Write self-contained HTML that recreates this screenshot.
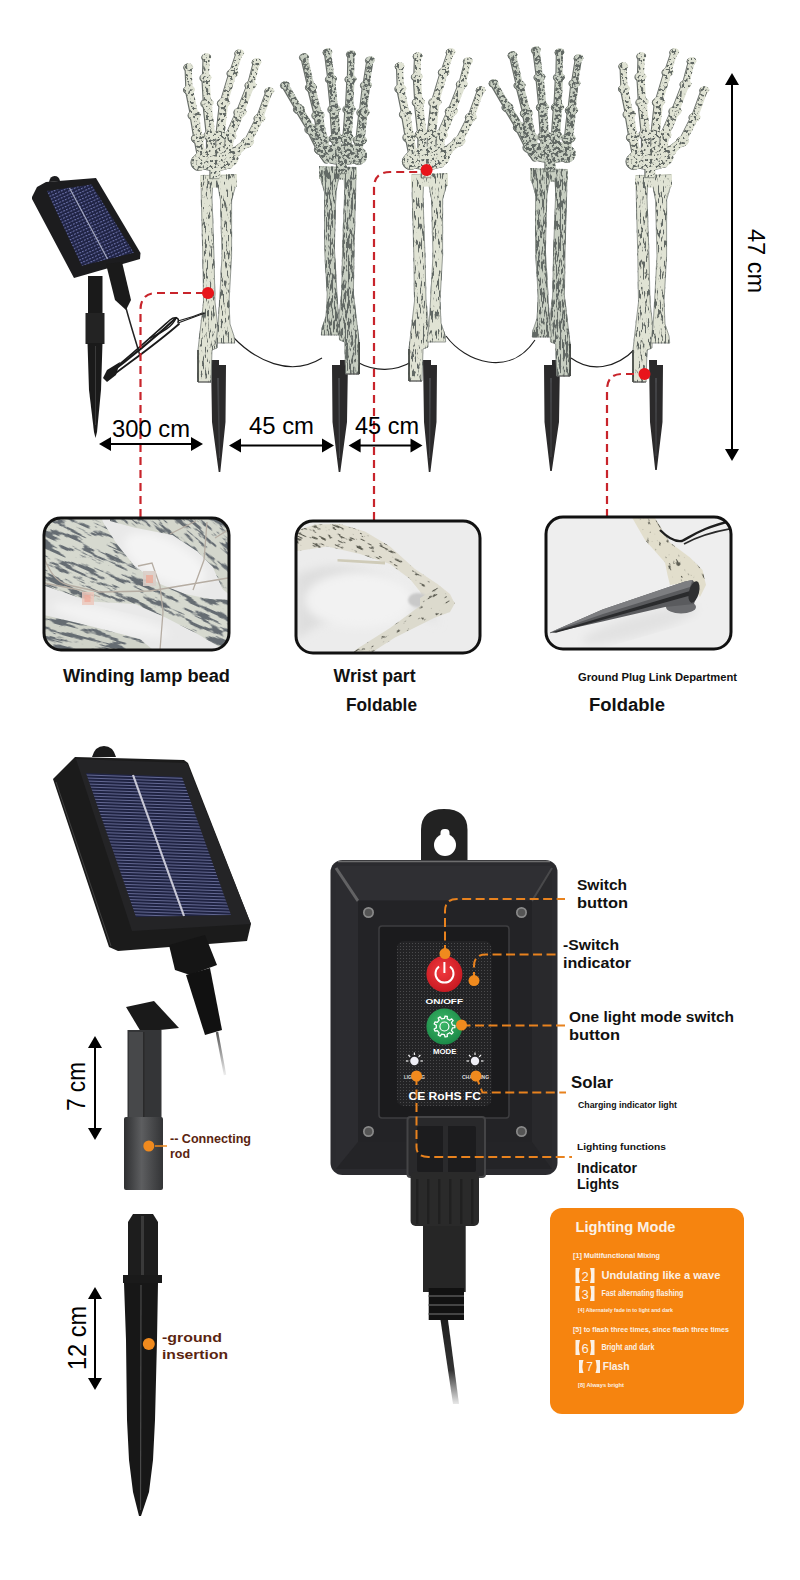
<!DOCTYPE html>
<html><head><meta charset="utf-8"><style>
html,body{margin:0;padding:0;background:#fff;}
body{width:800px;height:1580px;position:relative;overflow:hidden;font-family:"Liberation Sans",sans-serif;}
svg{position:absolute;left:0;top:0;}
</style></head><body>
<svg width="800" height="1580" viewBox="0 0 800 1580">
<defs>
<filter id="mottleA" x="-20%" y="-20%" width="140%" height="140%">
 <feTurbulence type="fractalNoise" baseFrequency="0.34" numOctaves="2" seed="4" result="n"/>
 <feColorMatrix in="n" type="matrix" values="0 0 0 0 0.12  0 0 0 0 0.14  0 0 0 0 0.13  11 0 0 0 -5.830" result="sp"/>
 <feComposite in="sp" in2="SourceGraphic" operator="in" result="s2"/>
 <feMerge><feMergeNode in="SourceGraphic"/><feMergeNode in="s2"/></feMerge>
</filter>
<filter id="mottleB" x="-20%" y="-20%" width="140%" height="140%">
 <feTurbulence type="fractalNoise" baseFrequency="0.34" numOctaves="2" seed="9" result="n"/>
 <feColorMatrix in="n" type="matrix" values="0 0 0 0 0.12  0 0 0 0 0.14  0 0 0 0 0.13  10 0 0 0 -4.600" result="sp"/>
 <feComposite in="sp" in2="SourceGraphic" operator="in" result="s2"/>
 <feMerge><feMergeNode in="SourceGraphic"/><feMergeNode in="s2"/></feMerge>
</filter>
<filter id="armA" x="-20%" y="-20%" width="140%" height="140%">
 <feTurbulence type="fractalNoise" baseFrequency="0.6 0.1" numOctaves="3" seed="5" result="n"/>
 <feColorMatrix in="n" type="matrix" values="0 0 0 0 0.12  0 0 0 0 0.14  0 0 0 0 0.13  10 0 0 0 -5.500" result="sp"/>
 <feComposite in="sp" in2="SourceGraphic" operator="in" result="s2"/>
 <feMerge><feMergeNode in="SourceGraphic"/><feMergeNode in="s2"/></feMerge>
</filter>
<filter id="armB" x="-20%" y="-20%" width="140%" height="140%">
 <feTurbulence type="fractalNoise" baseFrequency="0.6 0.1" numOctaves="3" seed="11" result="n"/>
 <feColorMatrix in="n" type="matrix" values="0 0 0 0 0.12  0 0 0 0 0.14  0 0 0 0 0.13  9 0 0 0 -4.140" result="sp"/>
 <feComposite in="sp" in2="SourceGraphic" operator="in" result="s2"/>
 <feMerge><feMergeNode in="SourceGraphic"/><feMergeNode in="s2"/></feMerge>
</filter>
<filter id="tex1" x="0" y="0" width="100%" height="100%">
 <feTurbulence type="fractalNoise" baseFrequency="0.04 0.22" numOctaves="4" seed="21" result="n"/>
 <feColorMatrix in="n" type="matrix" values="0 0 0 0 0.13  0 0 0 0 0.15  0 0 0 0 0.17  12 0 0 0 -6.240" result="sp"/>
 <feComposite in="sp" in2="SourceGraphic" operator="in"/>
</filter>
<filter id="tex2" x="0" y="0" width="100%" height="100%">
 <feTurbulence type="fractalNoise" baseFrequency="0.1 0.4" numOctaves="3" seed="23" result="n"/>
 <feColorMatrix in="n" type="matrix" values="0 0 0 0 0.1  0 0 0 0 0.1  0 0 0 0 0.08  14 0 0 0 -8.820" result="sp"/>
 <feComposite in="sp" in2="SourceGraphic" operator="in"/>
</filter>
<filter id="tex3" x="0" y="0" width="100%" height="100%">
 <feTurbulence type="fractalNoise" baseFrequency="0.12 0.3" numOctaves="3" seed="29" result="n"/>
 <feColorMatrix in="n" type="matrix" values="0 0 0 0 0.1  0 0 0 0 0.1  0 0 0 0 0.08  14 0 0 0 -9.380" result="sp"/>
 <feComposite in="sp" in2="SourceGraphic" operator="in"/>
</filter>
<filter id="streak" x="-20%" y="-20%" width="140%" height="140%">
 <feTurbulence type="fractalNoise" baseFrequency="0.04 0.16" numOctaves="3" seed="2" result="n"/>
 <feColorMatrix in="n" type="matrix" values="0 0 0 0 0.16  0 0 0 0 0.18  0 0 0 0 0.2  6 0 0 0 -3.000" result="sp"/>
 <feComposite in="sp" in2="SourceGraphic" operator="in" result="s2"/>
 <feMerge><feMergeNode in="SourceGraphic"/><feMergeNode in="s2"/></feMerge>
</filter>
<filter id="speck" x="-20%" y="-20%" width="140%" height="140%">
 <feTurbulence type="fractalNoise" baseFrequency="0.55" numOctaves="2" seed="7" result="n"/>
 <feColorMatrix in="n" type="matrix" values="0 0 0 0 0.15  0 0 0 0 0.15  0 0 0 0 0.13  14 0 0 0 -8.680" result="sp"/>
 <feComposite in="sp" in2="SourceGraphic" operator="in" result="s2"/>
 <feMerge><feMergeNode in="SourceGraphic"/><feMergeNode in="s2"/></feMerge>
</filter>
<filter id="blur1"><feGaussianBlur stdDeviation="1.2"/></filter>
<filter id="blur3"><feGaussianBlur stdDeviation="4"/></filter>
<pattern id="cells" width="3" height="3" patternUnits="userSpaceOnUse" patternTransform="rotate(2)"><rect width="3" height="3" fill="#1f2342"/><rect y="0" width="3" height="1" fill="#636892"/></pattern>
<pattern id="cells2" width="3.2" height="3.2" patternUnits="userSpaceOnUse" patternTransform="rotate(-25)"><rect width="3.2" height="3.2" fill="#1f2344"/><rect width="2" height="1.1" fill="#6a70a8"/></pattern>
<pattern id="panelTex" width="3" height="3" patternUnits="userSpaceOnUse"><rect width="3" height="3" fill="#232325"/><rect x="1" y="1" width="1" height="1" fill="#4a4a4c"/></pattern>
<linearGradient id="metal" x1="0" y1="0" x2="1" y2="0"><stop offset="0" stop-color="#2e2f31"/><stop offset="0.45" stop-color="#5d5e60"/><stop offset="1" stop-color="#333436"/></linearGradient>
<linearGradient id="wireFade" x1="0" y1="0" x2="0" y2="1"><stop offset="0" stop-color="#1e1e1e"/><stop offset="0.6" stop-color="#333"/><stop offset="1" stop-color="#e8e8e8"/></linearGradient>
<linearGradient id="wireFade2" x1="0" y1="0" x2="0" y2="1"><stop offset="0" stop-color="#555"/><stop offset="1" stop-color="#eee"/></linearGradient>
<radialGradient id="redBtn" cx="0.45" cy="0.4" r="0.6"><stop offset="0" stop-color="#f23a3f"/><stop offset="1" stop-color="#c81a22"/></radialGradient>
<radialGradient id="grnBtn" cx="0.45" cy="0.4" r="0.6"><stop offset="0" stop-color="#3cb868"/><stop offset="1" stop-color="#1c8a48"/></radialGradient>
<radialGradient id="ledGlow" cx="0.5" cy="0.5" r="0.5"><stop offset="0" stop-color="#fff"/><stop offset="0.6" stop-color="#e8e8f4"/><stop offset="1" stop-color="#777" stop-opacity="0"/></radialGradient>
<clipPath id="c1"><rect x="44" y="518" width="185" height="132" rx="17"/></clipPath>
<clipPath id="c2"><rect x="296" y="521" width="184" height="132" rx="17"/></clipPath>
<clipPath id="c3"><rect x="546" y="517" width="185" height="132" rx="17"/></clipPath>
</defs>

<g fill="none" stroke="#1e1e1e" stroke-width="1.1">
<path d="M178,321 C190,318 198,315 205,312"/>
<path d="M233,337 C255,360 290,378 322,358"/>
<path d="M357,362 C375,372 395,372 413,361"/>
<path d="M446,336 C465,362 510,378 535,340"/>
<path d="M571,358 C590,372 615,370 636,348"/>
</g>
<polygon points="211.0,360.0 219.0,360.0 219.0,365.0 226.0,365.0 225.5,422.0 220.3,472.0 218.7,472.0 212.0,422.0" fill="#2b2a2b"/><polygon points="217.0,378.0 219.0,378.0 220.0,458.0 219.0,458.0" fill="#444548"/>
<g filter="url(#armA)" fill="#e0e3d4"><path d="M200.0,175.0 L237.0,174.0 L237.0,186.0 L200.0,187.0 Z"/><path d="M201.0,176.0 L213.0,176.0 L212.0,198.0 L214.0,256.0 L215.0,302.0 L217.5,324.0 L217.0,348.0 L212.0,350.0 L211.0,382.0 L198.0,382.0 L198.0,350.0 L200.0,332.0 L203.5,302.0 L202.8,256.0 L201.3,198.0 Z" stroke="#7d847d" stroke-width="0.8"/><path d="M216.0,176.0 L236.0,175.0 L235.0,188.0 L231.6,200.0 L231.6,256.0 L229.0,302.0 L230.0,324.0 L234.0,336.0 L234.7,343.0 L216.0,343.0 L218.0,326.0 L219.5,302.0 L222.0,256.0 L220.5,200.0 Z" stroke="#7d847d" stroke-width="0.8"/><path d="M200.0,175.0 L237.0,174.0 L237.0,186.0 L200.0,187.0 Z" transform="translate(0,1)"/></g><line x1="198.0" y1="350" x2="198.0" y2="382" stroke="#3a3f3a" stroke-width="1.6"/><line x1="198.0" y1="382" x2="211.0" y2="382" stroke="#555" stroke-width="1"/>
<g transform="translate(213.9,172.6)" opacity="0.85"><g><g stroke="#4d544e" fill="#4d544e" stroke-linecap="round"><line x1="-13" y1="-16" x2="-16.5" y2="-34" stroke-width="8"/><line x1="-4" y1="-18" x2="-4" y2="-37" stroke-width="8"/><line x1="5" y1="-18" x2="5.5" y2="-37" stroke-width="8"/><line x1="13" y1="-16" x2="15" y2="-36" stroke-width="8"/><line x1="15" y1="-8" x2="20" y2="-20" stroke-width="8"/><line x1="-16.5" y1="-34" x2="-20.3" y2="-57" stroke-width="8.2"/><line x1="-20.3" y1="-57" x2="-25.5" y2="-82.5" stroke-width="7.2"/><line x1="-25.5" y1="-82.5" x2="-26.3" y2="-105" stroke-width="6.2"/><ellipse cx="-16.5" cy="-34" rx="6.0" ry="5.10"/><ellipse cx="-20.3" cy="-57" rx="5.6" ry="4.76"/><ellipse cx="-25.5" cy="-82.5" rx="5.0" ry="4.25"/><ellipse cx="-26.3" cy="-105" rx="4.0" ry="3.40"/><line x1="-4" y1="-37" x2="-7.5" y2="-69" stroke-width="8.2"/><line x1="-7.5" y1="-69" x2="-9" y2="-94.5" stroke-width="7.2"/><line x1="-9" y1="-94.5" x2="-8.3" y2="-115" stroke-width="6.2"/><ellipse cx="-4" cy="-37" rx="6.0" ry="5.10"/><ellipse cx="-7.5" cy="-69" rx="5.6" ry="4.76"/><ellipse cx="-9" cy="-94.5" rx="5.0" ry="4.25"/><ellipse cx="-8.3" cy="-115" rx="4.0" ry="3.40"/><line x1="5.5" y1="-37" x2="9" y2="-69" stroke-width="8.2"/><line x1="9" y1="-69" x2="18" y2="-99" stroke-width="7.2"/><line x1="18" y1="-99" x2="24.7" y2="-119" stroke-width="6.2"/><ellipse cx="5.5" cy="-37" rx="6.0" ry="5.10"/><ellipse cx="9" cy="-69" rx="5.6" ry="4.76"/><ellipse cx="18" cy="-99" rx="5.0" ry="4.25"/><ellipse cx="24.7" cy="-119" rx="4.0" ry="3.40"/><line x1="15" y1="-36" x2="25.5" y2="-60" stroke-width="8.2"/><line x1="25.5" y1="-60" x2="36" y2="-87" stroke-width="7.2"/><line x1="36" y1="-87" x2="42" y2="-110" stroke-width="6.2"/><ellipse cx="15" cy="-36" rx="6.0" ry="5.10"/><ellipse cx="25.5" cy="-60" rx="5.6" ry="4.76"/><ellipse cx="36" cy="-87" rx="5.0" ry="4.25"/><ellipse cx="42" cy="-110" rx="4.0" ry="3.40"/><line x1="20" y1="-20" x2="33" y2="-30" stroke-width="8.2"/><line x1="33" y1="-30" x2="45" y2="-54" stroke-width="7.2"/><line x1="45" y1="-54" x2="54.7" y2="-81" stroke-width="6.2"/><ellipse cx="20" cy="-20" rx="6.0" ry="5.10"/><ellipse cx="33" cy="-30" rx="5.6" ry="4.76"/><ellipse cx="45" cy="-54" rx="5.0" ry="4.25"/><ellipse cx="54.7" cy="-81" rx="4.0" ry="3.40"/><ellipse cx="1" cy="-13" rx="22" ry="11"/><ellipse cx="-15" cy="-10" rx="8" ry="8"/><rect x="-4" y="-6" width="9" height="12"/></g></g></g><g transform="translate(215,172)" filter="url(#mottleA)"><g stroke="#e0e3d4" fill="#e0e3d4" stroke-linecap="round"><line x1="-13" y1="-16" x2="-16.5" y2="-34" stroke-width="8"/><line x1="-4" y1="-18" x2="-4" y2="-37" stroke-width="8"/><line x1="5" y1="-18" x2="5.5" y2="-37" stroke-width="8"/><line x1="13" y1="-16" x2="15" y2="-36" stroke-width="8"/><line x1="15" y1="-8" x2="20" y2="-20" stroke-width="8"/><line x1="-16.5" y1="-34" x2="-20.3" y2="-57" stroke-width="8.2"/><line x1="-20.3" y1="-57" x2="-25.5" y2="-82.5" stroke-width="7.2"/><line x1="-25.5" y1="-82.5" x2="-26.3" y2="-105" stroke-width="6.2"/><ellipse cx="-16.5" cy="-34" rx="6.0" ry="5.10"/><ellipse cx="-20.3" cy="-57" rx="5.6" ry="4.76"/><ellipse cx="-25.5" cy="-82.5" rx="5.0" ry="4.25"/><ellipse cx="-26.3" cy="-105" rx="4.0" ry="3.40"/><line x1="-4" y1="-37" x2="-7.5" y2="-69" stroke-width="8.2"/><line x1="-7.5" y1="-69" x2="-9" y2="-94.5" stroke-width="7.2"/><line x1="-9" y1="-94.5" x2="-8.3" y2="-115" stroke-width="6.2"/><ellipse cx="-4" cy="-37" rx="6.0" ry="5.10"/><ellipse cx="-7.5" cy="-69" rx="5.6" ry="4.76"/><ellipse cx="-9" cy="-94.5" rx="5.0" ry="4.25"/><ellipse cx="-8.3" cy="-115" rx="4.0" ry="3.40"/><line x1="5.5" y1="-37" x2="9" y2="-69" stroke-width="8.2"/><line x1="9" y1="-69" x2="18" y2="-99" stroke-width="7.2"/><line x1="18" y1="-99" x2="24.7" y2="-119" stroke-width="6.2"/><ellipse cx="5.5" cy="-37" rx="6.0" ry="5.10"/><ellipse cx="9" cy="-69" rx="5.6" ry="4.76"/><ellipse cx="18" cy="-99" rx="5.0" ry="4.25"/><ellipse cx="24.7" cy="-119" rx="4.0" ry="3.40"/><line x1="15" y1="-36" x2="25.5" y2="-60" stroke-width="8.2"/><line x1="25.5" y1="-60" x2="36" y2="-87" stroke-width="7.2"/><line x1="36" y1="-87" x2="42" y2="-110" stroke-width="6.2"/><ellipse cx="15" cy="-36" rx="6.0" ry="5.10"/><ellipse cx="25.5" cy="-60" rx="5.6" ry="4.76"/><ellipse cx="36" cy="-87" rx="5.0" ry="4.25"/><ellipse cx="42" cy="-110" rx="4.0" ry="3.40"/><line x1="20" y1="-20" x2="33" y2="-30" stroke-width="8.2"/><line x1="33" y1="-30" x2="45" y2="-54" stroke-width="7.2"/><line x1="45" y1="-54" x2="54.7" y2="-81" stroke-width="6.2"/><ellipse cx="20" cy="-20" rx="6.0" ry="5.10"/><ellipse cx="33" cy="-30" rx="5.6" ry="4.76"/><ellipse cx="45" cy="-54" rx="5.0" ry="4.25"/><ellipse cx="54.7" cy="-81" rx="4.0" ry="3.40"/><ellipse cx="1" cy="-13" rx="22" ry="11"/><ellipse cx="-15" cy="-10" rx="8" ry="8"/><rect x="-4" y="-6" width="9" height="12"/></g></g>
<polygon points="332.0,365.0 340.0,365.0 340.0,360.0 348.0,360.0 347.0,422.0 340.3,472.0 338.7,472.0 332.5,422.0" fill="#2b2a2b"/><polygon points="338.0,378.0 340.0,378.0 340.0,458.0 339.0,458.0" fill="#444548"/>
<g filter="url(#armB)" fill="#c8cfc2"><path d="M357.0,167.0 L319.0,166.0 L319.0,178.0 L357.0,179.0 Z"/><path d="M356.0,168.0 L343.7,168.0 L344.7,190.0 L342.6,248.0 L341.6,294.0 L339.0,316.0 L339.5,340.0 L344.7,342.0 L345.7,374.0 L359.1,374.0 L359.1,342.0 L357.0,324.0 L353.4,294.0 L354.1,248.0 L355.7,190.0 Z" stroke="#7d847d" stroke-width="0.8"/><path d="M340.6,168.0 L320.0,167.0 L321.0,180.0 L324.5,192.0 L324.5,248.0 L327.2,294.0 L326.2,316.0 L322.1,328.0 L321.3,335.0 L340.6,335.0 L338.5,318.0 L337.0,294.0 L334.4,248.0 L335.9,192.0 Z" stroke="#7d847d" stroke-width="0.8"/><path d="M357.0,167.0 L319.0,166.0 L319.0,178.0 L357.0,179.0 Z" transform="translate(0,1)"/></g><line x1="359.0857142857143" y1="342" x2="359.0857142857143" y2="374" stroke="#3a3f3a" stroke-width="1.6"/><line x1="359.0857142857143" y1="374" x2="345.7142857142857" y2="374" stroke="#555" stroke-width="1"/>
<g transform="translate(340.4,167.6)" opacity="0.85"><g><g stroke="#4d544e" fill="#4d544e" stroke-linecap="round"><line x1="-14" y1="-8" x2="-20" y2="-18" stroke-width="8"/><line x1="-14" y1="-14" x2="-18" y2="-27" stroke-width="8"/><line x1="-4" y1="-16" x2="-5" y2="-29" stroke-width="8"/><line x1="6" y1="-16" x2="6" y2="-29" stroke-width="8"/><line x1="16" y1="-14" x2="19" y2="-27" stroke-width="8"/><line x1="-20" y1="-18" x2="-30" y2="-38" stroke-width="8.2"/><line x1="-30" y1="-38" x2="-42" y2="-58" stroke-width="7.2"/><line x1="-42" y1="-58" x2="-56" y2="-82" stroke-width="6.2"/><ellipse cx="-20" cy="-18" rx="6.0" ry="5.10"/><ellipse cx="-30" cy="-38" rx="5.6" ry="4.76"/><ellipse cx="-42" cy="-58" rx="5.0" ry="4.25"/><ellipse cx="-56" cy="-82" rx="4.0" ry="3.40"/><line x1="-18" y1="-27" x2="-23" y2="-52" stroke-width="8.2"/><line x1="-23" y1="-52" x2="-30" y2="-80" stroke-width="7.2"/><line x1="-30" y1="-80" x2="-37" y2="-110" stroke-width="6.2"/><ellipse cx="-18" cy="-27" rx="6.0" ry="5.10"/><ellipse cx="-23" cy="-52" rx="5.6" ry="4.76"/><ellipse cx="-30" cy="-80" rx="5.0" ry="4.25"/><ellipse cx="-37" cy="-110" rx="4.0" ry="3.40"/><line x1="-5" y1="-29" x2="-7" y2="-58" stroke-width="8.2"/><line x1="-7" y1="-58" x2="-10" y2="-88" stroke-width="7.2"/><line x1="-10" y1="-88" x2="-13.5" y2="-115" stroke-width="6.2"/><ellipse cx="-5" cy="-29" rx="6.0" ry="5.10"/><ellipse cx="-7" cy="-58" rx="5.6" ry="4.76"/><ellipse cx="-10" cy="-88" rx="5.0" ry="4.25"/><ellipse cx="-13.5" cy="-115" rx="4.0" ry="3.40"/><line x1="6" y1="-29" x2="8" y2="-58" stroke-width="8.2"/><line x1="8" y1="-58" x2="9.5" y2="-88" stroke-width="7.2"/><line x1="9.5" y1="-88" x2="10" y2="-113" stroke-width="6.2"/><ellipse cx="6" cy="-29" rx="6.0" ry="5.10"/><ellipse cx="8" cy="-58" rx="5.6" ry="4.76"/><ellipse cx="9.5" cy="-88" rx="5.0" ry="4.25"/><ellipse cx="10" cy="-113" rx="4.0" ry="3.40"/><line x1="19" y1="-27" x2="22" y2="-55" stroke-width="8.2"/><line x1="22" y1="-55" x2="25" y2="-82" stroke-width="7.2"/><line x1="25" y1="-82" x2="29" y2="-107" stroke-width="6.2"/><ellipse cx="19" cy="-27" rx="6.0" ry="5.10"/><ellipse cx="22" cy="-55" rx="5.6" ry="4.76"/><ellipse cx="25" cy="-82" rx="5.0" ry="4.25"/><ellipse cx="29" cy="-107" rx="4.0" ry="3.40"/><ellipse cx="2" cy="-13" rx="23" ry="10"/><ellipse cx="18" cy="-10" rx="7" ry="7"/><rect x="-4" y="-6" width="9" height="12"/></g></g></g><g transform="translate(341.5,167)" filter="url(#mottleB)"><g stroke="#c8cfc2" fill="#c8cfc2" stroke-linecap="round"><line x1="-14" y1="-8" x2="-20" y2="-18" stroke-width="8"/><line x1="-14" y1="-14" x2="-18" y2="-27" stroke-width="8"/><line x1="-4" y1="-16" x2="-5" y2="-29" stroke-width="8"/><line x1="6" y1="-16" x2="6" y2="-29" stroke-width="8"/><line x1="16" y1="-14" x2="19" y2="-27" stroke-width="8"/><line x1="-20" y1="-18" x2="-30" y2="-38" stroke-width="8.2"/><line x1="-30" y1="-38" x2="-42" y2="-58" stroke-width="7.2"/><line x1="-42" y1="-58" x2="-56" y2="-82" stroke-width="6.2"/><ellipse cx="-20" cy="-18" rx="6.0" ry="5.10"/><ellipse cx="-30" cy="-38" rx="5.6" ry="4.76"/><ellipse cx="-42" cy="-58" rx="5.0" ry="4.25"/><ellipse cx="-56" cy="-82" rx="4.0" ry="3.40"/><line x1="-18" y1="-27" x2="-23" y2="-52" stroke-width="8.2"/><line x1="-23" y1="-52" x2="-30" y2="-80" stroke-width="7.2"/><line x1="-30" y1="-80" x2="-37" y2="-110" stroke-width="6.2"/><ellipse cx="-18" cy="-27" rx="6.0" ry="5.10"/><ellipse cx="-23" cy="-52" rx="5.6" ry="4.76"/><ellipse cx="-30" cy="-80" rx="5.0" ry="4.25"/><ellipse cx="-37" cy="-110" rx="4.0" ry="3.40"/><line x1="-5" y1="-29" x2="-7" y2="-58" stroke-width="8.2"/><line x1="-7" y1="-58" x2="-10" y2="-88" stroke-width="7.2"/><line x1="-10" y1="-88" x2="-13.5" y2="-115" stroke-width="6.2"/><ellipse cx="-5" cy="-29" rx="6.0" ry="5.10"/><ellipse cx="-7" cy="-58" rx="5.6" ry="4.76"/><ellipse cx="-10" cy="-88" rx="5.0" ry="4.25"/><ellipse cx="-13.5" cy="-115" rx="4.0" ry="3.40"/><line x1="6" y1="-29" x2="8" y2="-58" stroke-width="8.2"/><line x1="8" y1="-58" x2="9.5" y2="-88" stroke-width="7.2"/><line x1="9.5" y1="-88" x2="10" y2="-113" stroke-width="6.2"/><ellipse cx="6" cy="-29" rx="6.0" ry="5.10"/><ellipse cx="8" cy="-58" rx="5.6" ry="4.76"/><ellipse cx="9.5" cy="-88" rx="5.0" ry="4.25"/><ellipse cx="10" cy="-113" rx="4.0" ry="3.40"/><line x1="19" y1="-27" x2="22" y2="-55" stroke-width="8.2"/><line x1="22" y1="-55" x2="25" y2="-82" stroke-width="7.2"/><line x1="25" y1="-82" x2="29" y2="-107" stroke-width="6.2"/><ellipse cx="19" cy="-27" rx="6.0" ry="5.10"/><ellipse cx="22" cy="-55" rx="5.6" ry="4.76"/><ellipse cx="25" cy="-82" rx="5.0" ry="4.25"/><ellipse cx="29" cy="-107" rx="4.0" ry="3.40"/><ellipse cx="2" cy="-13" rx="23" ry="10"/><ellipse cx="18" cy="-10" rx="7" ry="7"/><rect x="-4" y="-6" width="9" height="12"/></g></g>
<polygon points="423.0,360.0 431.0,360.0 431.0,365.0 437.0,365.0 436.5,422.0 430.4,472.0 428.8,472.0 424.0,422.0" fill="#2b2a2b"/><polygon points="429.0,378.0 431.0,378.0 430.1,458.0 429.1,458.0" fill="#444548"/>
<g filter="url(#armA)" fill="#e0e3d4"><path d="M411.0,174.0 L448.0,173.0 L448.0,185.0 L411.0,186.0 Z"/><path d="M412.0,175.0 L424.0,175.0 L423.0,197.0 L425.0,255.0 L426.0,301.0 L428.5,323.0 L428.0,347.0 L423.0,349.0 L422.0,381.0 L409.0,381.0 L409.0,349.0 L411.0,331.0 L414.5,301.0 L413.8,255.0 L412.3,197.0 Z" stroke="#7d847d" stroke-width="0.8"/><path d="M427.0,175.0 L447.0,174.0 L446.0,187.0 L442.6,199.0 L442.6,255.0 L440.0,301.0 L441.0,323.0 L445.0,335.0 L445.7,342.0 L427.0,342.0 L429.0,325.0 L430.5,301.0 L433.0,255.0 L431.5,199.0 Z" stroke="#7d847d" stroke-width="0.8"/><path d="M411.0,174.0 L448.0,173.0 L448.0,185.0 L411.0,186.0 Z" transform="translate(0,1)"/></g><line x1="409.0" y1="349" x2="409.0" y2="381" stroke="#3a3f3a" stroke-width="1.6"/><line x1="409.0" y1="381" x2="422.0" y2="381" stroke="#555" stroke-width="1"/>
<g transform="translate(425.29999999999995,171.6)" opacity="0.85"><g><g stroke="#4d544e" fill="#4d544e" stroke-linecap="round"><line x1="-13" y1="-16" x2="-16.5" y2="-34" stroke-width="8"/><line x1="-4" y1="-18" x2="-4" y2="-37" stroke-width="8"/><line x1="5" y1="-18" x2="5.5" y2="-37" stroke-width="8"/><line x1="13" y1="-16" x2="15" y2="-36" stroke-width="8"/><line x1="15" y1="-8" x2="20" y2="-20" stroke-width="8"/><line x1="-16.5" y1="-34" x2="-20.3" y2="-57" stroke-width="8.2"/><line x1="-20.3" y1="-57" x2="-25.5" y2="-82.5" stroke-width="7.2"/><line x1="-25.5" y1="-82.5" x2="-26.3" y2="-105" stroke-width="6.2"/><ellipse cx="-16.5" cy="-34" rx="6.0" ry="5.10"/><ellipse cx="-20.3" cy="-57" rx="5.6" ry="4.76"/><ellipse cx="-25.5" cy="-82.5" rx="5.0" ry="4.25"/><ellipse cx="-26.3" cy="-105" rx="4.0" ry="3.40"/><line x1="-4" y1="-37" x2="-7.5" y2="-69" stroke-width="8.2"/><line x1="-7.5" y1="-69" x2="-9" y2="-94.5" stroke-width="7.2"/><line x1="-9" y1="-94.5" x2="-8.3" y2="-115" stroke-width="6.2"/><ellipse cx="-4" cy="-37" rx="6.0" ry="5.10"/><ellipse cx="-7.5" cy="-69" rx="5.6" ry="4.76"/><ellipse cx="-9" cy="-94.5" rx="5.0" ry="4.25"/><ellipse cx="-8.3" cy="-115" rx="4.0" ry="3.40"/><line x1="5.5" y1="-37" x2="9" y2="-69" stroke-width="8.2"/><line x1="9" y1="-69" x2="18" y2="-99" stroke-width="7.2"/><line x1="18" y1="-99" x2="24.7" y2="-119" stroke-width="6.2"/><ellipse cx="5.5" cy="-37" rx="6.0" ry="5.10"/><ellipse cx="9" cy="-69" rx="5.6" ry="4.76"/><ellipse cx="18" cy="-99" rx="5.0" ry="4.25"/><ellipse cx="24.7" cy="-119" rx="4.0" ry="3.40"/><line x1="15" y1="-36" x2="25.5" y2="-60" stroke-width="8.2"/><line x1="25.5" y1="-60" x2="36" y2="-87" stroke-width="7.2"/><line x1="36" y1="-87" x2="42" y2="-110" stroke-width="6.2"/><ellipse cx="15" cy="-36" rx="6.0" ry="5.10"/><ellipse cx="25.5" cy="-60" rx="5.6" ry="4.76"/><ellipse cx="36" cy="-87" rx="5.0" ry="4.25"/><ellipse cx="42" cy="-110" rx="4.0" ry="3.40"/><line x1="20" y1="-20" x2="33" y2="-30" stroke-width="8.2"/><line x1="33" y1="-30" x2="45" y2="-54" stroke-width="7.2"/><line x1="45" y1="-54" x2="54.7" y2="-81" stroke-width="6.2"/><ellipse cx="20" cy="-20" rx="6.0" ry="5.10"/><ellipse cx="33" cy="-30" rx="5.6" ry="4.76"/><ellipse cx="45" cy="-54" rx="5.0" ry="4.25"/><ellipse cx="54.7" cy="-81" rx="4.0" ry="3.40"/><ellipse cx="1" cy="-13" rx="22" ry="11"/><ellipse cx="-15" cy="-10" rx="8" ry="8"/><rect x="-4" y="-6" width="9" height="12"/></g></g></g><g transform="translate(426.4,171)" filter="url(#mottleA)"><g stroke="#e0e3d4" fill="#e0e3d4" stroke-linecap="round"><line x1="-13" y1="-16" x2="-16.5" y2="-34" stroke-width="8"/><line x1="-4" y1="-18" x2="-4" y2="-37" stroke-width="8"/><line x1="5" y1="-18" x2="5.5" y2="-37" stroke-width="8"/><line x1="13" y1="-16" x2="15" y2="-36" stroke-width="8"/><line x1="15" y1="-8" x2="20" y2="-20" stroke-width="8"/><line x1="-16.5" y1="-34" x2="-20.3" y2="-57" stroke-width="8.2"/><line x1="-20.3" y1="-57" x2="-25.5" y2="-82.5" stroke-width="7.2"/><line x1="-25.5" y1="-82.5" x2="-26.3" y2="-105" stroke-width="6.2"/><ellipse cx="-16.5" cy="-34" rx="6.0" ry="5.10"/><ellipse cx="-20.3" cy="-57" rx="5.6" ry="4.76"/><ellipse cx="-25.5" cy="-82.5" rx="5.0" ry="4.25"/><ellipse cx="-26.3" cy="-105" rx="4.0" ry="3.40"/><line x1="-4" y1="-37" x2="-7.5" y2="-69" stroke-width="8.2"/><line x1="-7.5" y1="-69" x2="-9" y2="-94.5" stroke-width="7.2"/><line x1="-9" y1="-94.5" x2="-8.3" y2="-115" stroke-width="6.2"/><ellipse cx="-4" cy="-37" rx="6.0" ry="5.10"/><ellipse cx="-7.5" cy="-69" rx="5.6" ry="4.76"/><ellipse cx="-9" cy="-94.5" rx="5.0" ry="4.25"/><ellipse cx="-8.3" cy="-115" rx="4.0" ry="3.40"/><line x1="5.5" y1="-37" x2="9" y2="-69" stroke-width="8.2"/><line x1="9" y1="-69" x2="18" y2="-99" stroke-width="7.2"/><line x1="18" y1="-99" x2="24.7" y2="-119" stroke-width="6.2"/><ellipse cx="5.5" cy="-37" rx="6.0" ry="5.10"/><ellipse cx="9" cy="-69" rx="5.6" ry="4.76"/><ellipse cx="18" cy="-99" rx="5.0" ry="4.25"/><ellipse cx="24.7" cy="-119" rx="4.0" ry="3.40"/><line x1="15" y1="-36" x2="25.5" y2="-60" stroke-width="8.2"/><line x1="25.5" y1="-60" x2="36" y2="-87" stroke-width="7.2"/><line x1="36" y1="-87" x2="42" y2="-110" stroke-width="6.2"/><ellipse cx="15" cy="-36" rx="6.0" ry="5.10"/><ellipse cx="25.5" cy="-60" rx="5.6" ry="4.76"/><ellipse cx="36" cy="-87" rx="5.0" ry="4.25"/><ellipse cx="42" cy="-110" rx="4.0" ry="3.40"/><line x1="20" y1="-20" x2="33" y2="-30" stroke-width="8.2"/><line x1="33" y1="-30" x2="45" y2="-54" stroke-width="7.2"/><line x1="45" y1="-54" x2="54.7" y2="-81" stroke-width="6.2"/><ellipse cx="20" cy="-20" rx="6.0" ry="5.10"/><ellipse cx="33" cy="-30" rx="5.6" ry="4.76"/><ellipse cx="45" cy="-54" rx="5.0" ry="4.25"/><ellipse cx="54.7" cy="-81" rx="4.0" ry="3.40"/><ellipse cx="1" cy="-13" rx="22" ry="11"/><ellipse cx="-15" cy="-10" rx="8" ry="8"/><rect x="-4" y="-6" width="9" height="12"/></g></g>
<polygon points="544.0,365.0 552.0,365.0 552.0,360.0 560.0,360.0 559.0,422.0 551.8,471.0 550.2,471.0 544.5,422.0" fill="#2b2a2b"/><polygon points="550.0,378.0 552.0,378.0 551.5,457.0 550.5,457.0" fill="#444548"/>
<g filter="url(#armB)" fill="#c8cfc2"><path d="M568.0,169.0 L530.0,168.0 L530.0,180.0 L568.0,181.0 Z"/><path d="M567.0,170.0 L554.7,170.0 L555.7,192.0 L553.6,250.0 L552.6,296.0 L550.0,318.0 L550.5,342.0 L555.7,344.0 L556.7,376.0 L570.1,376.0 L570.1,344.0 L568.0,326.0 L564.4,296.0 L565.1,250.0 L566.7,192.0 Z" stroke="#7d847d" stroke-width="0.8"/><path d="M551.6,170.0 L531.0,169.0 L532.0,182.0 L535.5,194.0 L535.5,250.0 L538.2,296.0 L537.2,318.0 L533.1,330.0 L532.3,337.0 L551.6,337.0 L549.5,320.0 L548.0,296.0 L545.4,250.0 L546.9,194.0 Z" stroke="#7d847d" stroke-width="0.8"/><path d="M568.0,169.0 L530.0,168.0 L530.0,180.0 L568.0,181.0 Z" transform="translate(0,1)"/></g><line x1="570.0857142857143" y1="344" x2="570.0857142857143" y2="376" stroke="#3a3f3a" stroke-width="1.6"/><line x1="570.0857142857143" y1="376" x2="556.7142857142857" y2="376" stroke="#555" stroke-width="1"/>
<g transform="translate(548.9,165.6)" opacity="0.85"><g><g stroke="#4d544e" fill="#4d544e" stroke-linecap="round"><line x1="-14" y1="-8" x2="-20" y2="-18" stroke-width="8"/><line x1="-14" y1="-14" x2="-18" y2="-27" stroke-width="8"/><line x1="-4" y1="-16" x2="-5" y2="-29" stroke-width="8"/><line x1="6" y1="-16" x2="6" y2="-29" stroke-width="8"/><line x1="16" y1="-14" x2="19" y2="-27" stroke-width="8"/><line x1="-20" y1="-18" x2="-30" y2="-38" stroke-width="8.2"/><line x1="-30" y1="-38" x2="-42" y2="-58" stroke-width="7.2"/><line x1="-42" y1="-58" x2="-56" y2="-82" stroke-width="6.2"/><ellipse cx="-20" cy="-18" rx="6.0" ry="5.10"/><ellipse cx="-30" cy="-38" rx="5.6" ry="4.76"/><ellipse cx="-42" cy="-58" rx="5.0" ry="4.25"/><ellipse cx="-56" cy="-82" rx="4.0" ry="3.40"/><line x1="-18" y1="-27" x2="-23" y2="-52" stroke-width="8.2"/><line x1="-23" y1="-52" x2="-30" y2="-80" stroke-width="7.2"/><line x1="-30" y1="-80" x2="-37" y2="-110" stroke-width="6.2"/><ellipse cx="-18" cy="-27" rx="6.0" ry="5.10"/><ellipse cx="-23" cy="-52" rx="5.6" ry="4.76"/><ellipse cx="-30" cy="-80" rx="5.0" ry="4.25"/><ellipse cx="-37" cy="-110" rx="4.0" ry="3.40"/><line x1="-5" y1="-29" x2="-7" y2="-58" stroke-width="8.2"/><line x1="-7" y1="-58" x2="-10" y2="-88" stroke-width="7.2"/><line x1="-10" y1="-88" x2="-13.5" y2="-115" stroke-width="6.2"/><ellipse cx="-5" cy="-29" rx="6.0" ry="5.10"/><ellipse cx="-7" cy="-58" rx="5.6" ry="4.76"/><ellipse cx="-10" cy="-88" rx="5.0" ry="4.25"/><ellipse cx="-13.5" cy="-115" rx="4.0" ry="3.40"/><line x1="6" y1="-29" x2="8" y2="-58" stroke-width="8.2"/><line x1="8" y1="-58" x2="9.5" y2="-88" stroke-width="7.2"/><line x1="9.5" y1="-88" x2="10" y2="-113" stroke-width="6.2"/><ellipse cx="6" cy="-29" rx="6.0" ry="5.10"/><ellipse cx="8" cy="-58" rx="5.6" ry="4.76"/><ellipse cx="9.5" cy="-88" rx="5.0" ry="4.25"/><ellipse cx="10" cy="-113" rx="4.0" ry="3.40"/><line x1="19" y1="-27" x2="22" y2="-55" stroke-width="8.2"/><line x1="22" y1="-55" x2="25" y2="-82" stroke-width="7.2"/><line x1="25" y1="-82" x2="29" y2="-107" stroke-width="6.2"/><ellipse cx="19" cy="-27" rx="6.0" ry="5.10"/><ellipse cx="22" cy="-55" rx="5.6" ry="4.76"/><ellipse cx="25" cy="-82" rx="5.0" ry="4.25"/><ellipse cx="29" cy="-107" rx="4.0" ry="3.40"/><ellipse cx="2" cy="-13" rx="23" ry="10"/><ellipse cx="18" cy="-10" rx="7" ry="7"/><rect x="-4" y="-6" width="9" height="12"/></g></g></g><g transform="translate(550,165)" filter="url(#mottleB)"><g stroke="#c8cfc2" fill="#c8cfc2" stroke-linecap="round"><line x1="-14" y1="-8" x2="-20" y2="-18" stroke-width="8"/><line x1="-14" y1="-14" x2="-18" y2="-27" stroke-width="8"/><line x1="-4" y1="-16" x2="-5" y2="-29" stroke-width="8"/><line x1="6" y1="-16" x2="6" y2="-29" stroke-width="8"/><line x1="16" y1="-14" x2="19" y2="-27" stroke-width="8"/><line x1="-20" y1="-18" x2="-30" y2="-38" stroke-width="8.2"/><line x1="-30" y1="-38" x2="-42" y2="-58" stroke-width="7.2"/><line x1="-42" y1="-58" x2="-56" y2="-82" stroke-width="6.2"/><ellipse cx="-20" cy="-18" rx="6.0" ry="5.10"/><ellipse cx="-30" cy="-38" rx="5.6" ry="4.76"/><ellipse cx="-42" cy="-58" rx="5.0" ry="4.25"/><ellipse cx="-56" cy="-82" rx="4.0" ry="3.40"/><line x1="-18" y1="-27" x2="-23" y2="-52" stroke-width="8.2"/><line x1="-23" y1="-52" x2="-30" y2="-80" stroke-width="7.2"/><line x1="-30" y1="-80" x2="-37" y2="-110" stroke-width="6.2"/><ellipse cx="-18" cy="-27" rx="6.0" ry="5.10"/><ellipse cx="-23" cy="-52" rx="5.6" ry="4.76"/><ellipse cx="-30" cy="-80" rx="5.0" ry="4.25"/><ellipse cx="-37" cy="-110" rx="4.0" ry="3.40"/><line x1="-5" y1="-29" x2="-7" y2="-58" stroke-width="8.2"/><line x1="-7" y1="-58" x2="-10" y2="-88" stroke-width="7.2"/><line x1="-10" y1="-88" x2="-13.5" y2="-115" stroke-width="6.2"/><ellipse cx="-5" cy="-29" rx="6.0" ry="5.10"/><ellipse cx="-7" cy="-58" rx="5.6" ry="4.76"/><ellipse cx="-10" cy="-88" rx="5.0" ry="4.25"/><ellipse cx="-13.5" cy="-115" rx="4.0" ry="3.40"/><line x1="6" y1="-29" x2="8" y2="-58" stroke-width="8.2"/><line x1="8" y1="-58" x2="9.5" y2="-88" stroke-width="7.2"/><line x1="9.5" y1="-88" x2="10" y2="-113" stroke-width="6.2"/><ellipse cx="6" cy="-29" rx="6.0" ry="5.10"/><ellipse cx="8" cy="-58" rx="5.6" ry="4.76"/><ellipse cx="9.5" cy="-88" rx="5.0" ry="4.25"/><ellipse cx="10" cy="-113" rx="4.0" ry="3.40"/><line x1="19" y1="-27" x2="22" y2="-55" stroke-width="8.2"/><line x1="22" y1="-55" x2="25" y2="-82" stroke-width="7.2"/><line x1="25" y1="-82" x2="29" y2="-107" stroke-width="6.2"/><ellipse cx="19" cy="-27" rx="6.0" ry="5.10"/><ellipse cx="22" cy="-55" rx="5.6" ry="4.76"/><ellipse cx="25" cy="-82" rx="5.0" ry="4.25"/><ellipse cx="29" cy="-107" rx="4.0" ry="3.40"/><ellipse cx="2" cy="-13" rx="23" ry="10"/><ellipse cx="18" cy="-10" rx="7" ry="7"/><rect x="-4" y="-6" width="9" height="12"/></g></g>
<polygon points="649.0,360.0 657.0,360.0 657.0,365.0 663.0,365.0 662.5,422.0 656.8,470.0 655.2,470.0 650.0,422.0" fill="#2b2a2b"/><polygon points="655.0,378.0 657.0,378.0 656.5,456.0 655.5,456.0" fill="#444548"/>
<g filter="url(#armA)" fill="#e0e3d4"><path d="M635.0,175.0 L672.0,174.0 L672.0,186.0 L635.0,187.0 Z"/><path d="M636.0,176.0 L648.0,176.0 L647.0,198.0 L649.0,256.0 L650.0,302.0 L652.5,324.0 L652.0,348.0 L647.0,350.0 L646.0,382.0 L633.0,382.0 L633.0,350.0 L635.0,332.0 L638.5,302.0 L637.8,256.0 L636.3,198.0 Z" stroke="#7d847d" stroke-width="0.8"/><path d="M651.0,176.0 L671.0,175.0 L670.0,188.0 L666.6,200.0 L666.6,256.0 L664.0,302.0 L665.0,324.0 L669.0,336.0 L669.7,343.0 L651.0,343.0 L653.0,326.0 L654.5,302.0 L657.0,256.0 L655.5,200.0 Z" stroke="#7d847d" stroke-width="0.8"/><path d="M635.0,175.0 L672.0,174.0 L672.0,186.0 L635.0,187.0 Z" transform="translate(0,1)"/></g><line x1="633.0" y1="350" x2="633.0" y2="382" stroke="#3a3f3a" stroke-width="1.6"/><line x1="633.0" y1="382" x2="646.0" y2="382" stroke="#555" stroke-width="1"/>
<g transform="translate(648.9,171.6)" opacity="0.85"><g><g stroke="#4d544e" fill="#4d544e" stroke-linecap="round"><line x1="-13" y1="-16" x2="-16.5" y2="-34" stroke-width="8"/><line x1="-4" y1="-18" x2="-4" y2="-37" stroke-width="8"/><line x1="5" y1="-18" x2="5.5" y2="-37" stroke-width="8"/><line x1="13" y1="-16" x2="15" y2="-36" stroke-width="8"/><line x1="15" y1="-8" x2="20" y2="-20" stroke-width="8"/><line x1="-16.5" y1="-34" x2="-20.3" y2="-57" stroke-width="8.2"/><line x1="-20.3" y1="-57" x2="-25.5" y2="-82.5" stroke-width="7.2"/><line x1="-25.5" y1="-82.5" x2="-26.3" y2="-105" stroke-width="6.2"/><ellipse cx="-16.5" cy="-34" rx="6.0" ry="5.10"/><ellipse cx="-20.3" cy="-57" rx="5.6" ry="4.76"/><ellipse cx="-25.5" cy="-82.5" rx="5.0" ry="4.25"/><ellipse cx="-26.3" cy="-105" rx="4.0" ry="3.40"/><line x1="-4" y1="-37" x2="-7.5" y2="-69" stroke-width="8.2"/><line x1="-7.5" y1="-69" x2="-9" y2="-94.5" stroke-width="7.2"/><line x1="-9" y1="-94.5" x2="-8.3" y2="-115" stroke-width="6.2"/><ellipse cx="-4" cy="-37" rx="6.0" ry="5.10"/><ellipse cx="-7.5" cy="-69" rx="5.6" ry="4.76"/><ellipse cx="-9" cy="-94.5" rx="5.0" ry="4.25"/><ellipse cx="-8.3" cy="-115" rx="4.0" ry="3.40"/><line x1="5.5" y1="-37" x2="9" y2="-69" stroke-width="8.2"/><line x1="9" y1="-69" x2="18" y2="-99" stroke-width="7.2"/><line x1="18" y1="-99" x2="24.7" y2="-119" stroke-width="6.2"/><ellipse cx="5.5" cy="-37" rx="6.0" ry="5.10"/><ellipse cx="9" cy="-69" rx="5.6" ry="4.76"/><ellipse cx="18" cy="-99" rx="5.0" ry="4.25"/><ellipse cx="24.7" cy="-119" rx="4.0" ry="3.40"/><line x1="15" y1="-36" x2="25.5" y2="-60" stroke-width="8.2"/><line x1="25.5" y1="-60" x2="36" y2="-87" stroke-width="7.2"/><line x1="36" y1="-87" x2="42" y2="-110" stroke-width="6.2"/><ellipse cx="15" cy="-36" rx="6.0" ry="5.10"/><ellipse cx="25.5" cy="-60" rx="5.6" ry="4.76"/><ellipse cx="36" cy="-87" rx="5.0" ry="4.25"/><ellipse cx="42" cy="-110" rx="4.0" ry="3.40"/><line x1="20" y1="-20" x2="33" y2="-30" stroke-width="8.2"/><line x1="33" y1="-30" x2="45" y2="-54" stroke-width="7.2"/><line x1="45" y1="-54" x2="54.7" y2="-81" stroke-width="6.2"/><ellipse cx="20" cy="-20" rx="6.0" ry="5.10"/><ellipse cx="33" cy="-30" rx="5.6" ry="4.76"/><ellipse cx="45" cy="-54" rx="5.0" ry="4.25"/><ellipse cx="54.7" cy="-81" rx="4.0" ry="3.40"/><ellipse cx="1" cy="-13" rx="22" ry="11"/><ellipse cx="-15" cy="-10" rx="8" ry="8"/><rect x="-4" y="-6" width="9" height="12"/></g></g></g><g transform="translate(650,171)" filter="url(#mottleA)"><g stroke="#e0e3d4" fill="#e0e3d4" stroke-linecap="round"><line x1="-13" y1="-16" x2="-16.5" y2="-34" stroke-width="8"/><line x1="-4" y1="-18" x2="-4" y2="-37" stroke-width="8"/><line x1="5" y1="-18" x2="5.5" y2="-37" stroke-width="8"/><line x1="13" y1="-16" x2="15" y2="-36" stroke-width="8"/><line x1="15" y1="-8" x2="20" y2="-20" stroke-width="8"/><line x1="-16.5" y1="-34" x2="-20.3" y2="-57" stroke-width="8.2"/><line x1="-20.3" y1="-57" x2="-25.5" y2="-82.5" stroke-width="7.2"/><line x1="-25.5" y1="-82.5" x2="-26.3" y2="-105" stroke-width="6.2"/><ellipse cx="-16.5" cy="-34" rx="6.0" ry="5.10"/><ellipse cx="-20.3" cy="-57" rx="5.6" ry="4.76"/><ellipse cx="-25.5" cy="-82.5" rx="5.0" ry="4.25"/><ellipse cx="-26.3" cy="-105" rx="4.0" ry="3.40"/><line x1="-4" y1="-37" x2="-7.5" y2="-69" stroke-width="8.2"/><line x1="-7.5" y1="-69" x2="-9" y2="-94.5" stroke-width="7.2"/><line x1="-9" y1="-94.5" x2="-8.3" y2="-115" stroke-width="6.2"/><ellipse cx="-4" cy="-37" rx="6.0" ry="5.10"/><ellipse cx="-7.5" cy="-69" rx="5.6" ry="4.76"/><ellipse cx="-9" cy="-94.5" rx="5.0" ry="4.25"/><ellipse cx="-8.3" cy="-115" rx="4.0" ry="3.40"/><line x1="5.5" y1="-37" x2="9" y2="-69" stroke-width="8.2"/><line x1="9" y1="-69" x2="18" y2="-99" stroke-width="7.2"/><line x1="18" y1="-99" x2="24.7" y2="-119" stroke-width="6.2"/><ellipse cx="5.5" cy="-37" rx="6.0" ry="5.10"/><ellipse cx="9" cy="-69" rx="5.6" ry="4.76"/><ellipse cx="18" cy="-99" rx="5.0" ry="4.25"/><ellipse cx="24.7" cy="-119" rx="4.0" ry="3.40"/><line x1="15" y1="-36" x2="25.5" y2="-60" stroke-width="8.2"/><line x1="25.5" y1="-60" x2="36" y2="-87" stroke-width="7.2"/><line x1="36" y1="-87" x2="42" y2="-110" stroke-width="6.2"/><ellipse cx="15" cy="-36" rx="6.0" ry="5.10"/><ellipse cx="25.5" cy="-60" rx="5.6" ry="4.76"/><ellipse cx="36" cy="-87" rx="5.0" ry="4.25"/><ellipse cx="42" cy="-110" rx="4.0" ry="3.40"/><line x1="20" y1="-20" x2="33" y2="-30" stroke-width="8.2"/><line x1="33" y1="-30" x2="45" y2="-54" stroke-width="7.2"/><line x1="45" y1="-54" x2="54.7" y2="-81" stroke-width="6.2"/><ellipse cx="20" cy="-20" rx="6.0" ry="5.10"/><ellipse cx="33" cy="-30" rx="5.6" ry="4.76"/><ellipse cx="45" cy="-54" rx="5.0" ry="4.25"/><ellipse cx="54.7" cy="-81" rx="4.0" ry="3.40"/><ellipse cx="1" cy="-13" rx="22" ry="11"/><ellipse cx="-15" cy="-10" rx="8" ry="8"/><rect x="-4" y="-6" width="9" height="12"/></g></g>
<g>
<polygon points="32.0,197.0 37.0,187.0 46.0,182.0 96.0,178.0 140.5,253.0 140.0,259.0 74.0,278.0 32.0,199.0" fill="#1c1c1e"/>
<path d="M49,182 Q50,176 54.5,176 Q59,176 60,181 Z" fill="#1c1c1e"/>
<polygon points="46.8,191.0 91.5,184.5 133.8,252.8 81.8,265.8" fill="url(#cells2)"/>
<line x1="69.5" y1="188" x2="107.5" y2="259" stroke="#a4a8c0" stroke-width="1.2"/>
<rect x="88" y="276" width="14.5" height="40" fill="#1a1a1a"/>
<rect x="85.5" y="313" width="19" height="31" fill="#232323"/>
<polygon points="87.5,343.0 102.5,343.0 101.0,390.0 97.0,432.0 95.5,438.0 94.0,432.0 89.0,390.0" fill="#1a1a1a"/>
<path d="M95.5,346 L95.5,425" stroke="#3a3a3a" stroke-width="1"/>
<polygon points="106.0,264.0 122.0,262.0 131.0,300.0 126.0,310.0 115.0,300.0" fill="#1a1a1a"/>
<path d="M126,308 C132,330 137,345 140,356" stroke="#222" stroke-width="1.5" fill="none"/>
<g fill="none" stroke="#1a1a1a" stroke-linecap="round">
<path d="M106,376 C125,362 150,342 176,318" stroke-width="2.2"/>
<path d="M108,379 C130,362 155,345 179,324" stroke-width="1.8"/>
<path d="M110,372 C128,358 150,338 170,320 C175,316 180,318 178,322" stroke-width="1.6"/>
<path d="M176,318 C172,328 160,333 150,338" stroke-width="1.4"/>
<path d="M178,323 L205,313" stroke-width="1.1"/>
</g>
<polygon points="103.0,378.0 107.0,370.0 120.0,362.0 116.0,375.0 107.0,382.0" fill="#1a1a1a"/>
</g>
<g fill="none" stroke="#c8242b" stroke-width="2.2" stroke-dasharray="8,5">
<path d="M140.5,517 L140.5,310 Q140.5,293 157,293 L205,293"/>
<path d="M374,520 L374,188 Q374,172 390,172 L424,172"/>
<path d="M607,517 L607,390 Q607,374 622,374 L642,374"/>
</g>
<g fill="#e8151b"><circle cx="208" cy="293" r="6"/><circle cx="426.6" cy="170" r="6"/><circle cx="644.5" cy="374" r="6"/></g>
<g fill="#000">
<line x1="109" y1="444" x2="193" y2="444" stroke="#000" stroke-width="2"/><polygon points="99.0,444.0 111.0,437.0 111.0,451.0"/><polygon points="203.0,444.0 191.0,437.0 191.0,451.0"/>
<line x1="239" y1="445.6" x2="324" y2="445.6" stroke="#000" stroke-width="2"/><polygon points="229.0,445.6 241.0,438.6 241.0,452.6"/><polygon points="334.0,445.6 322.0,438.6 322.0,452.6"/>
<line x1="358.6" y1="445.6" x2="412.5" y2="445.6" stroke="#000" stroke-width="2"/><polygon points="348.6,445.6 360.6,438.6 360.6,452.6"/><polygon points="422.5,445.6 410.5,438.6 410.5,452.6"/>
<line x1="732" y1="80" x2="732" y2="455" stroke="#000" stroke-width="2"/>
<polygon points="732.0,73.0 725.0,85.0 739.0,85.0"/>
<polygon points="732.0,461.0 725.0,449.0 739.0,449.0"/>
</g>
<g font-family="Liberation Sans, sans-serif" font-size="24" fill="#000">
<text x="112" y="436.5" textLength="78" lengthAdjust="spacingAndGlyphs">300 cm</text>
<text x="249" y="434" textLength="65" lengthAdjust="spacingAndGlyphs">45 cm</text>
<text x="355" y="434" textLength="64" lengthAdjust="spacingAndGlyphs">45 cm</text>
<text transform="translate(748,229) rotate(90)" textLength="64" lengthAdjust="spacingAndGlyphs">47 cm</text>
</g>
<g clip-path="url(#c1)">
<rect x="40" y="514" width="195" height="140" fill="#e9e9e9"/>
<ellipse cx="165" cy="560" rx="45" ry="20" fill="#f4f4f4" transform="rotate(28 165 560)" filter="url(#blur3)"/>
<ellipse cx="110" cy="620" rx="60" ry="9" fill="#f3f3f3" transform="rotate(14 110 620)" filter="url(#blur3)"/>
<clipPath id="b1c"><path d="M40.0,514.0 L102.0,514.0 L102.5,521.5 L117.5,545.0 L135.0,566.5 L160.0,584.0 L185.0,594.0 L210.0,599.0 L240.0,600.0 L240.0,660.0 L216.0,645.0 L197.5,634.0 L166.0,617.8 L135.0,604.0 L90.0,601.5 L40.0,584.0 Z"/></clipPath><path d="M40.0,514.0 L102.0,514.0 L102.5,521.5 L117.5,545.0 L135.0,566.5 L160.0,584.0 L185.0,594.0 L210.0,599.0 L240.0,600.0 L240.0,660.0 L216.0,645.0 L197.5,634.0 L166.0,617.8 L135.0,604.0 L90.0,601.5 L40.0,584.0 Z" fill="#d6d9cf"/><g clip-path="url(#b1c)"><g transform="rotate(24 140 580)"><rect x="-20.0" y="500.0" width="320" height="160" fill="#000" filter="url(#tex1)"/></g></g>
<clipPath id="b2c"><path d="M110.0,514.0 L240.0,514.0 L240.0,604.0 L222.5,589.0 L212.5,566.5 L197.5,551.5 L172.5,535.0 L135.0,527.8 L110.0,521.0 Z"/></clipPath><path d="M110.0,514.0 L240.0,514.0 L240.0,604.0 L222.5,589.0 L212.5,566.5 L197.5,551.5 L172.5,535.0 L135.0,527.8 L110.0,521.0 Z" fill="#d3d6cc"/><g clip-path="url(#b2c)"><g transform="rotate(40 180 550)"><rect x="50.0" y="470.0" width="260" height="160" fill="#000" filter="url(#tex1)"/></g></g>
<clipPath id="b3c"><path d="M40.0,614.0 L90.0,626.0 L140.0,639.0 L165.0,660.0 L40.0,660.0 Z"/></clipPath><path d="M40.0,614.0 L90.0,626.0 L140.0,639.0 L165.0,660.0 L40.0,660.0 Z" fill="#d0d3c9"/><g clip-path="url(#b3c)"><g transform="rotate(15 100 640)"><rect x="0.0" y="600.0" width="200" height="80" fill="#000" filter="url(#tex1)"/></g></g>
<g fill="none" stroke="#b5aca2" stroke-width="1.3">
<path d="M44,558 C50,572 56,582 68,585 L100,592 L150,591 L180,586 L228,578"/>
<path d="M44,583 L80,590 L100,597"/>
<path d="M138,566 L152,563 L160,586 L163,612 L160,650"/>
<path d="M170,534 L196,521 M207,522 L204,560 L193,590"/>
<path d="M215,538 L228,530"/>
</g>
<rect x="82" y="592" width="12" height="13" fill="#ecc8bc" opacity="0.85"/><rect x="84.5" y="595" width="6" height="7" fill="#f0a898" opacity="0.7"/><rect x="143" y="571" width="13" height="15" fill="#d9cdc6" opacity="0.9"/><rect x="146" y="575" width="7" height="8" fill="#eda896" opacity="0.75"/>
</g>
<rect x="44" y="518" width="185" height="132" rx="17" fill="none" stroke="#111" stroke-width="3"/>
<g clip-path="url(#c2)">
<rect x="290" y="515" width="195" height="145" fill="#ececec"/>
<path d="M296,575 C340,555 390,570 425,605 L440,625 C400,600 350,600 296,640 Z" fill="#dedede" filter="url(#blur3)"/>
<ellipse cx="360" cy="600" rx="55" ry="28" fill="#f2f2f2" filter="url(#blur3)"/>
<clipPath id="p2a"><path d="M294.0,531.5 L315.0,524.5 L340.0,524.0 L365.0,531.5 L390.0,546.5 L415.0,569.0 L437.5,584.0 L450.0,594.0 L455.0,604.0 L425.0,601.5 L420.0,591.5 L410.0,579.0 L390.0,564.0 L360.0,554.0 L327.5,546.5 L294.0,551.5 Z"/></clipPath><path d="M294.0,531.5 L315.0,524.5 L340.0,524.0 L365.0,531.5 L390.0,546.5 L415.0,569.0 L437.5,584.0 L450.0,594.0 L455.0,604.0 L425.0,601.5 L420.0,591.5 L410.0,579.0 L390.0,564.0 L360.0,554.0 L327.5,546.5 L294.0,551.5 Z" fill="#e0ddd0"/><g clip-path="url(#p2a)"><g transform="rotate(25 375 565)"><rect x="275.0" y="520.0" width="200" height="90" fill="#000" filter="url(#tex2)"/></g></g>
<path d="M337.5,559 L385,561.5 L385,564.5 L337.5,561.5 Z" fill="#cfcbb8"/>
<ellipse cx="418" cy="600" rx="10" ry="7" fill="#c9c9c9" filter="url(#blur1)"/>
<clipPath id="p2b"><path d="M420.0,598.0 L440.0,586.0 L455.0,603.0 L450.0,612.0 L434.0,618.0 L395.0,637.5 L372.5,652.0 L350.0,657.0 L356.0,649.5 L390.0,628.0 L420.0,606.0 Z"/></clipPath><path d="M420.0,598.0 L440.0,586.0 L455.0,603.0 L450.0,612.0 L434.0,618.0 L395.0,637.5 L372.5,652.0 L350.0,657.0 L356.0,649.5 L390.0,628.0 L420.0,606.0 Z" fill="#dcdacd"/><g clip-path="url(#p2b)"><g transform="rotate(-32 405 622)"><rect x="335.0" y="592.0" width="140" height="60" fill="#000" filter="url(#tex3)"/></g></g>
</g>
<rect x="296" y="521" width="184" height="132" rx="17" fill="none" stroke="#111" stroke-width="3"/>
<g clip-path="url(#c3)">
<rect x="540" y="512" width="195" height="145" fill="#eeeeee"/>
<ellipse cx="640" cy="625" rx="60" ry="10" fill="#e2e2e2" transform="rotate(-16 640 625)" filter="url(#blur3)"/>
<clipPath id="p3a"><path d="M630.0,514.0 L652.5,514.0 L670.0,542.5 L690.0,557.5 L702.5,570.0 L706.0,585.0 L700.0,597.0 L690.0,582.5 L670.0,585.0 L667.5,575.0 L665.0,562.5 L645.0,540.0 Z"/></clipPath><path d="M630.0,514.0 L652.5,514.0 L670.0,542.5 L690.0,557.5 L702.5,570.0 L706.0,585.0 L700.0,597.0 L690.0,582.5 L670.0,585.0 L667.5,575.0 L665.0,562.5 L645.0,540.0 Z" fill="#e2decc"/><g clip-path="url(#p3a)"><g transform="rotate(60 668 556)"><rect x="598.0" y="511.0" width="140" height="90" fill="#000" filter="url(#tex3)"/></g></g>
<path d="M660,530 C668,538 676,542 682,541 C692,536 703,527 735,520" stroke="#1e1e1e" stroke-width="2.4" fill="none"/>
<path d="M684,544 C695,538 710,532 735,528" stroke="#2a2a2a" stroke-width="1.8" fill="none"/>
<ellipse cx="681" cy="607" rx="15" ry="6.5" fill="#6a6b6e"/>
<polygon points="550.0,632.5 602.5,609.5 685.0,581.5 692.5,580.0 699.0,588.0 694.0,604.0 665.0,607.0 602.5,621.5 550.0,633.2" fill="#5a5b5e"/>
<polygon points="551.0,632.0 602.5,609.5 685.0,581.5 692.5,580.0 690.0,587.0 603.0,614.0" fill="#7d7e81"/>
<polygon points="552.0,632.3 690.0,591.0 692.0,595.0 556.0,632.8" fill="#2a2b2d"/>
<ellipse cx="694" cy="592" rx="5" ry="11" fill="#2e2f31" transform="rotate(15 694 592)"/>
</g>
<rect x="546" y="517" width="185" height="132" rx="17" fill="none" stroke="#111" stroke-width="3"/>
<g font-family="Liberation Sans, sans-serif" font-weight="bold" fill="#111">
<text x="63" y="681.5" font-size="18" textLength="167" lengthAdjust="spacingAndGlyphs">Winding lamp bead</text>
<text x="333.6" y="681.5" font-size="18" textLength="82" lengthAdjust="spacingAndGlyphs">Wrist part</text>
<text x="346" y="711" font-size="18" textLength="71" lengthAdjust="spacingAndGlyphs">Foldable</text>
<text x="578" y="680.6" font-size="10.8" textLength="159" lengthAdjust="spacingAndGlyphs">Ground Plug Link Department</text>
<text x="589" y="710.5" font-size="18" textLength="76" lengthAdjust="spacingAndGlyphs">Foldable</text>
</g>
<g>
<path d="M92,757 Q95,746 104,746 Q113,746 116,757 Z" fill="#1a1a1a"/>
<polygon points="53.0,779.0 75.0,757.0 184.0,760.0 188.0,763.0 251.0,924.0 247.0,941.0 118.0,951.0 109.0,947.0" fill="#1b1b1b"/>
<polygon points="76.0,759.0 187.0,763.0 251.0,924.0 132.0,931.0" fill="#242426"/>
<polygon points="86.0,773.0 182.0,777.0 231.0,915.0 136.0,917.0" fill="url(#cells)"/>
<line x1="133" y1="775" x2="184" y2="916" stroke="#c8c8d6" stroke-width="2.2"/>
<line x1="56" y1="782" x2="111" y2="946" stroke="#4a4a4a" stroke-width="0.8"/>
<polygon points="169.0,945.0 205.0,935.0 217.0,965.0 190.0,975.0 175.0,970.0" fill="#151515"/>
<polygon points="186.0,975.0 210.0,968.0 222.0,1030.0 205.0,1035.0" fill="#111"/>
<path d="M217,1032 L225,1075" stroke="url(#wireFade2)" stroke-width="2.5"/>
<polygon points="126.0,1007.0 154.0,1001.0 179.0,1028.0 141.0,1032.0" fill="#1a1a1a"/>
<rect x="127.5" y="1030" width="34" height="90" fill="#343537"/>
<rect x="129" y="1032" width="14" height="86" fill="#47484a"/>
<rect x="143" y="1032" width="1.5" height="86" fill="#2a2a2b"/>
<rect x="124" y="1117" width="39" height="73" rx="2" fill="url(#metal)"/>
<polygon points="133.0,1214.0 153.0,1214.0 158.0,1222.0 158.0,1278.0 128.0,1278.0 128.0,1222.0" fill="#1d1d1d"/>
<rect x="141" y="1216" width="3" height="60" fill="#3a3a3a"/>
<rect x="123" y="1275" width="39" height="8" fill="#1a1a1a"/>
<polygon points="124.0,1283.0 158.0,1283.0 157.0,1340.0 155.0,1420.0 153.0,1460.0 149.0,1492.0 141.0,1516.0 139.0,1516.0 133.0,1492.0 129.0,1460.0 127.0,1420.0 126.0,1340.0" fill="#171717"/>
<path d="M141,1285 L140.5,1510" stroke="#4a4a4a" stroke-width="1.2"/>
</g>
<g fill="#000">
<line x1="95" y1="1045" x2="95" y2="1131" stroke="#000" stroke-width="2"/>
<polygon points="95.0,1036.0 88.0,1048.0 102.0,1048.0"/>
<polygon points="95.0,1140.0 88.0,1128.0 102.0,1128.0"/>
<line x1="95" y1="1296" x2="95" y2="1381" stroke="#000" stroke-width="2"/>
<polygon points="95.0,1287.0 88.0,1299.0 102.0,1299.0"/>
<polygon points="95.0,1390.0 88.0,1378.0 102.0,1378.0"/>
</g>
<g font-family="Liberation Sans, sans-serif" font-size="25" fill="#000">
<text transform="translate(85,1111) rotate(-90)" textLength="49" lengthAdjust="spacingAndGlyphs">7 cm</text>
<text transform="translate(86,1370) rotate(-90)" textLength="64" lengthAdjust="spacingAndGlyphs">12 cm</text>
</g>
<g fill="#f08a1e"><circle cx="148.8" cy="1146" r="5.5"/><circle cx="148.8" cy="1344" r="6"/></g>
<line x1="155" y1="1146" x2="167" y2="1146" stroke="#f08a1e" stroke-width="1.5"/>
<g font-family="Liberation Sans, sans-serif" font-weight="bold" font-size="12" fill="#5a2410">
<text x="170" y="1143" textLength="81" lengthAdjust="spacingAndGlyphs">-- Connecting</text>
<text x="170" y="1157.5" textLength="20" lengthAdjust="spacingAndGlyphs">rod</text>
<text x="162" y="1342" font-size="13" textLength="60" lengthAdjust="spacingAndGlyphs">-ground</text>
<text x="162" y="1359" font-size="13" textLength="66" lengthAdjust="spacingAndGlyphs">insertion</text>
</g>
<g>
<path d="M421,866 L421,830 Q421,809 444,809 Q467.5,809 467.5,830 L467.5,866 Z" fill="#222"/>
<circle cx="445" cy="845" r="11" fill="#fff"/>
<rect x="440.5" y="829" width="9" height="10" rx="4" fill="#fff"/>
<rect x="330.5" y="860" width="227" height="315" rx="12" fill="#2b2b2f"/>
<path d="M338,861.5 L550,861.5" stroke="#8a8a8a" stroke-width="1.5" opacity="0.7"/>
<polygon points="336.0,866.0 552.0,866.0 532.0,900.5 358.0,900.5" fill="#2f2f33"/>
<polygon points="336.0,866.0 358.0,900.5 358.0,1142.0 336.0,1169.0" fill="#2c2c30"/>
<polygon points="552.0,866.0 532.0,900.5 532.0,1142.0 552.0,1169.0" fill="#29292c"/>
<polygon points="336.0,1169.0 358.0,1142.0 532.0,1142.0 552.0,1169.0" fill="#242427"/>
<path d="M336,868 L358,901" stroke="#8f8f8f" stroke-width="3" opacity="0.55"/>
<path d="M552,868 L532,901" stroke="#6a6a6a" stroke-width="2" opacity="0.5"/>
<rect x="358" y="900.5" width="174" height="241.5" fill="#232326"/>
<rect x="379" y="926" width="130" height="192" rx="3" fill="#1b1b1d" stroke="#3e3e40" stroke-width="1.5"/>
<rect x="397" y="941" width="94.5" height="165" rx="7" fill="url(#panelTex)"/>
<circle cx="368.5" cy="912.5" r="5.5" fill="#8a8a8a"/><circle cx="368.5" cy="912.5" r="3.8" fill="#555"/>
<circle cx="521.5" cy="912.5" r="5.5" fill="#8a8a8a"/><circle cx="521.5" cy="912.5" r="3.8" fill="#555"/>
<circle cx="368.5" cy="1131.5" r="5.5" fill="#8a8a8a"/><circle cx="368.5" cy="1131.5" r="3.8" fill="#555"/>
<circle cx="521.5" cy="1131.5" r="5.5" fill="#8a8a8a"/><circle cx="521.5" cy="1131.5" r="3.8" fill="#555"/>
<circle cx="444.4" cy="974" r="18" fill="url(#redBtn)"/>
<path d="M439,966.5 A9,9 0 1 0 450,966.5" fill="none" stroke="#fff" stroke-width="2"/><line x1="444.4" y1="962" x2="444.4" y2="973" stroke="#fff" stroke-width="2"/>
<circle cx="444.4" cy="1026.5" r="18" fill="url(#grnBtn)"/>
<path d="M452.48,1025.11 L454.84,1025.35 L454.84,1027.65 L452.48,1027.89 L451.48,1030.63 L453.14,1032.33 L451.65,1034.09 L449.70,1032.76 L447.17,1034.22 L447.35,1036.58 L445.08,1036.98 L444.44,1034.70 L441.56,1034.19 L440.18,1036.11 L438.18,1034.96 L439.16,1032.81 L437.28,1030.57 L434.99,1031.15 L434.20,1028.99 L436.33,1027.96 L436.33,1025.04 L434.20,1024.01 L434.99,1021.85 L437.28,1022.43 L439.16,1020.19 L438.18,1018.04 L440.18,1016.89 L441.56,1018.81 L444.44,1018.30 L445.08,1016.02 L447.35,1016.42 L447.17,1018.78 L449.70,1020.24 L451.65,1018.91 L453.14,1020.67 L451.48,1022.37 Z" fill="none" stroke="#fff" stroke-width="1.3" stroke-linejoin="round"/><circle cx="444.4" cy="1026.5" r="4.5" fill="none" stroke="#fff" stroke-width="1.2"/>
<circle cx="414.4" cy="1061" r="4.2" fill="#eeeef6"/><line x1="414.4" y1="1055.0" x2="414.4" y2="1052.5" stroke="#f0f0f0" stroke-width="1.2"/><line x1="418.6" y1="1056.8" x2="420.4" y2="1055.0" stroke="#f0f0f0" stroke-width="1.2"/><line x1="420.4" y1="1061.0" x2="422.9" y2="1061.0" stroke="#f0f0f0" stroke-width="1.2"/><line x1="408.4" y1="1061.0" x2="405.9" y2="1061.0" stroke="#f0f0f0" stroke-width="1.2"/><line x1="410.2" y1="1056.8" x2="408.4" y2="1055.0" stroke="#f0f0f0" stroke-width="1.2"/><circle cx="475" cy="1061" r="4.2" fill="#eeeef6"/><line x1="475.0" y1="1055.0" x2="475.0" y2="1052.5" stroke="#f0f0f0" stroke-width="1.2"/><line x1="479.2" y1="1056.8" x2="481.0" y2="1055.0" stroke="#f0f0f0" stroke-width="1.2"/><line x1="481.0" y1="1061.0" x2="483.5" y2="1061.0" stroke="#f0f0f0" stroke-width="1.2"/><line x1="469.0" y1="1061.0" x2="466.5" y2="1061.0" stroke="#f0f0f0" stroke-width="1.2"/><line x1="470.8" y1="1056.8" x2="469.0" y2="1055.0" stroke="#f0f0f0" stroke-width="1.2"/>
<text x="404" y="1078.5" font-family="Liberation Sans, sans-serif" font-weight="bold" font-size="4.5" fill="#ddd" textLength="21" lengthAdjust="spacingAndGlyphs">LIGHTING</text><text x="462" y="1078.5" font-family="Liberation Sans, sans-serif" font-weight="bold" font-size="4.5" fill="#ddd" textLength="27" lengthAdjust="spacingAndGlyphs">CHARGING</text>
<rect x="407.5" y="1117" width="77.5" height="60" rx="3" fill="#29292b" stroke="#444446" stroke-width="2"/>
<rect x="417" y="1126" width="59" height="46" rx="2" fill="#1c1c1e"/>
<rect x="443" y="1126" width="5" height="46" fill="#2a2a2c"/>
<rect x="410.6" y="1172" width="68.4" height="54" rx="5" fill="#2a2a2a"/>
<rect x="416" y="1179" width="2.5" height="45" fill="#202020"/>
<rect x="427" y="1179" width="2.5" height="45" fill="#202020"/>
<rect x="438" y="1179" width="2.5" height="45" fill="#202020"/>
<rect x="449" y="1179" width="2.5" height="45" fill="#202020"/>
<rect x="460" y="1179" width="2.5" height="45" fill="#202020"/>
<rect x="471" y="1179" width="2.5" height="45" fill="#202020"/>
<rect x="423" y="1226" width="42.7" height="66" fill="#262626"/>
<rect x="428.7" y="1288" width="35.3" height="32" fill="#111"/>
<rect x="428.7" y="1295" width="35.3" height="2" fill="#444"/>
<rect x="428.7" y="1304" width="35.3" height="2" fill="#444"/>
<rect x="428.7" y="1313" width="35.3" height="2" fill="#444"/>
<polygon points="440.5,1320.0 448.0,1320.0 459.0,1404.0 453.0,1404.0" fill="url(#wireFade)"/>
</g>
<g font-family="Liberation Sans, sans-serif" font-weight="bold" fill="#fff" font-size="8">
<text x="425.5" y="1004" textLength="37.5" lengthAdjust="spacingAndGlyphs">ON/OFF</text>
<text x="433" y="1054.4" textLength="23.4" lengthAdjust="spacingAndGlyphs">MODE</text>
<text x="408.4" y="1100" font-size="10.5" textLength="72.6" lengthAdjust="spacingAndGlyphs">CE RoHS FC</text>
</g>
<g fill="none" stroke="#e8821e" stroke-width="2" stroke-dasharray="9,4.5">
<path d="M445,954 L445,911 Q445,899 457,899 L565,899"/>
<path d="M474,981 L474,966 Q474,954.5 486,954.5 L560,954.5"/>
<path d="M461.5,1025.6 L566,1025.6"/>
<path d="M476,1076 L482.5,1092.5 L566,1092.5"/>
<path d="M416.5,1076 L416.5,1147 Q416.5,1157 428.5,1157 L572,1157"/>
</g>
<g fill="#f08a1e"><circle cx="445" cy="953.6" r="5.5"/><circle cx="474" cy="980.6" r="5.5"/><circle cx="461.5" cy="1025" r="5.5"/><circle cx="476" cy="1076" r="5.5"/><circle cx="416.5" cy="1076" r="5.5"/></g>
<g font-family="Liberation Sans, sans-serif" font-weight="bold" fill="#111">
<text x="577" y="890" font-size="14" textLength="50" lengthAdjust="spacingAndGlyphs">Switch</text>
<text x="577" y="908" font-size="14" textLength="51" lengthAdjust="spacingAndGlyphs">button</text>
<text x="563" y="950" font-size="14" textLength="56" lengthAdjust="spacingAndGlyphs">-Switch</text>
<text x="563" y="968" font-size="14" textLength="68" lengthAdjust="spacingAndGlyphs">indicator</text>
<text x="569" y="1022" font-size="14" textLength="165" lengthAdjust="spacingAndGlyphs">One light mode switch</text>
<text x="569" y="1040" font-size="14" textLength="51" lengthAdjust="spacingAndGlyphs">button</text>
<text x="571" y="1088" font-size="16" textLength="42" lengthAdjust="spacingAndGlyphs">Solar</text>
<text x="578" y="1108" font-size="8.5" textLength="99" lengthAdjust="spacingAndGlyphs">Charging indicator light</text>
<text x="577" y="1150" font-size="9.5" textLength="89" lengthAdjust="spacingAndGlyphs">Lighting functions</text>
<text x="577" y="1173" font-size="14" textLength="60" lengthAdjust="spacingAndGlyphs">Indicator</text>
<text x="577" y="1189" font-size="14" textLength="42" lengthAdjust="spacingAndGlyphs">Lights</text>
</g>
<rect x="550" y="1208" width="194" height="206" rx="12" fill="#f6840f"/>
<g font-family="Liberation Sans, sans-serif" font-weight="bold" fill="#fbf1e6">
<text x="575.5" y="1232" font-size="15" textLength="100" lengthAdjust="spacingAndGlyphs">Lighting Mode</text>
<text x="573" y="1258" font-size="7" textLength="87" lengthAdjust="spacingAndGlyphs">[1] Multifunctional Mixing</text>
<path d="M575.5,1268 h4.5 q-2.2,7.5 0,15 h-4.5 z M594.5,1268 h-4.5 q2.2,7.5 0,15 h4.5 z" fill="#fbf1e6"/>
<text x="585.0" y="1281" font-size="13" font-weight="normal" text-anchor="middle">2</text>
<text x="601.4" y="1279" font-size="11.5" textLength="119" lengthAdjust="spacingAndGlyphs">Undulating like a wave</text>
<path d="M575.5,1286 h4.5 q-2.2,7.5 0,15 h-4.5 z M594.5,1286 h-4.5 q2.2,7.5 0,15 h4.5 z" fill="#fbf1e6"/>
<text x="585.0" y="1299" font-size="13" font-weight="normal" text-anchor="middle">3</text>
<text x="601.4" y="1296" font-size="8.5" textLength="82" lengthAdjust="spacingAndGlyphs">Fast alternating flashing</text>
<text x="578" y="1312" font-size="5.5" textLength="95" lengthAdjust="spacingAndGlyphs">[4] Alternately fade in to light and dark</text>
<text x="573" y="1332" font-size="7.5" textLength="156" lengthAdjust="spacingAndGlyphs">[5] to flash three times, since flash three times</text>
<path d="M575.5,1340 h4.5 q-2.2,7.5 0,15 h-4.5 z M594.5,1340 h-4.5 q2.2,7.5 0,15 h4.5 z" fill="#fbf1e6"/>
<text x="585.0" y="1353" font-size="13" font-weight="normal" text-anchor="middle">6</text>
<text x="601.4" y="1350" font-size="8.5" textLength="53" lengthAdjust="spacingAndGlyphs">Bright and dark</text>
<path d="M579,1360 h4.5 q-2.2,6.5 0,13 h-4.5 z M600,1360 h-4.5 q2.2,6.5 0,13 h4.5 z" fill="#fbf1e6"/>
<text x="589.5" y="1371" font-size="12" font-weight="normal" text-anchor="middle">7</text>
<text x="602.7" y="1370" font-size="11.5" textLength="27" lengthAdjust="spacingAndGlyphs">Flash</text>
<text x="578" y="1387" font-size="5.5" textLength="46" lengthAdjust="spacingAndGlyphs">[8] Always bright</text>
</g>
</svg></body></html>
